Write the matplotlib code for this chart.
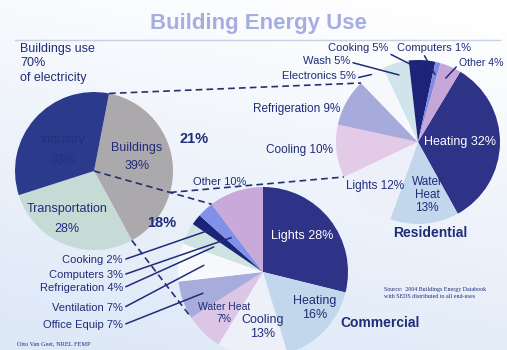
import matplotlib
matplotlib.use('Agg')
import matplotlib.pyplot as plt
import numpy as np

plt.rcParams['font.family'] = ['Liberation Sans', 'DejaVu Sans']

NAVY = '#1f2c78'
DASH = '#26306e'

# electricity use by sector (%)
sector_names = ['Buildings', 'Transportation', 'Industry']
sector_values = [39, 28, 33]
sector_colors = ['#aca9ad', '#c6dad6', '#2c3a8c']
buildings_split = [21, 18]  # residential, commercial

# residential end uses (%)
res_names = ['Heating', 'Water Heat', 'Lights', 'Cooling', 'Refrigeration',
             'Electronics', 'Wash', 'Cooking', 'Computers', 'Other']
res_values = [32, 13, 12, 10, 9, 5, 5, 5, 1, 4]
res_colors = ['#2e3388', '#c3d7ec', '#eef0f9', '#e3cbe8', '#a6abdc',
              '#f7f8fd', '#d0e4ec', '#1b2477', '#7f8ae6', '#c6a6d6']

# commercial end uses (%)
com_names = ['Lights', 'Heating', 'Cooling', 'Water Heat', 'Office Equip',
             'Ventilation', 'Refrigeration', 'Cooking', 'Computers', 'Other']
com_values = [28, 16, 13, 7, 7, 7, 4, 2, 3, 10]
com_colors = ['#2e3388', '#c3d7ec', '#eef0f9', '#dcc6e6', '#a8acdc',
              '#f8f9fd', '#cfe3e3', '#1b2477', '#8390e8', '#c9a9d9']

MAIN_C, MAIN_R, MAIN_START = (94, 179), 79, 79
RES_C, RES_R, RES_START = (418, 208), 82, 59
COM_C, COM_R, COM_START = (263, 78), 85, 90


def edge_angle(start, values, k):
    # angle (deg) of the boundary after the first k wedges of a clockwise pie
    return start - 360.0 * sum(values[:k]) / sum(values)


def mid_angle(start, values, k):
    return 0.5 * (edge_angle(start, values, k) + edge_angle(start, values, k + 1))


def polar(center, r, ang):
    a = np.radians(ang)
    return center[0] + r * np.cos(a), center[1] + r * np.sin(a)


fig = plt.figure(figsize=(5.07, 3.5), dpi=100)

# soft blue background
bg = fig.add_axes([0, 0, 1, 1], zorder=0)
yy, xx = np.mgrid[0:1:200j, 0:1:300j]
t = np.clip(0.85 * yy + 0.25 * (1 - xx) - 0.05, 0, 1)
top = np.array([1.0, 1.0, 1.0])
bottom = np.array([0.87, 0.91, 0.97])
img = top[None, None, :] * (1 - t[..., None]) + bottom[None, None, :] * t[..., None]
bg.imshow(img, aspect='auto', extent=(0, 1, 0, 1), origin='upper')
bg.axis('off')

ax = fig.add_axes([0, 0, 1, 1], zorder=1)
ax.patch.set_alpha(0)

wp = dict(linewidth=0)
ax.pie(sector_values, colors=sector_colors, startangle=MAIN_START,
       counterclock=False, center=MAIN_C, radius=MAIN_R, wedgeprops=wp, frame=True)
ax.pie(res_values, colors=res_colors, startangle=RES_START,
       counterclock=False, center=RES_C, radius=RES_R, wedgeprops=wp, frame=True)
ax.pie(com_values, colors=com_colors, startangle=COM_START,
       counterclock=False, center=COM_C, radius=COM_R, wedgeprops=wp, frame=True)

ax.set_xlim(0, 507)
ax.set_ylim(0, 350)
ax.set_aspect('auto')
ax.axis('off')

# title and rule
ax.text(258, 326, 'Building Energy Use', ha='center', va='center',
        fontsize=16, fontweight='bold', color='#a5aee2')
ax.plot([15, 500], [310, 310], color='#c9d0e2', lw=1)

ax.text(20, 307, 'Buildings use\n70%\nof electricity', ha='left', va='top',
        fontsize=9, color=NAVY, linespacing=1.25)

# connector lines between the sector pie and the end-use pies
dash = dict(color=DASH, lw=1.2, linestyle=(0, (4, 2.5)), zorder=3)
p_top = polar(MAIN_C, MAIN_R, MAIN_START)
p_res_a = polar(RES_C, RES_R, edge_angle(RES_START, res_values, 5))
ax.plot([p_top[0], p_res_a[0]], [p_top[1], p_res_a[1]], **dash)

p_com_a = polar(COM_C, COM_R, edge_angle(COM_START, com_values, 9))
ax.plot([MAIN_C[0], p_com_a[0]], [MAIN_C[1], p_com_a[1]], **dash)
d = np.array(p_com_a) - np.array(MAIN_C)
p_split = np.array(MAIN_C) + MAIN_R * d / np.hypot(*d)
p_res_b = polar(RES_C, RES_R, edge_angle(RES_START, res_values, 3))
ax.plot([p_split[0], p_res_b[0]], [p_split[1], p_res_b[1]], **dash)

p_low = polar(MAIN_C, MAIN_R, edge_angle(MAIN_START, sector_values, 1))
p_com_b = polar(COM_C, COM_R, edge_angle(COM_START, com_values, 4))
ax.plot([p_low[0], p_com_b[0]], [p_low[1], p_com_b[1]], **dash)

# sector pie labels
ax.text(137, 193, f'{sector_names[0]}\n{sector_values[0]}%', ha='center',
        va='center', fontsize=9, color=NAVY, linespacing=1.6)
ax.text(67, 131, f'{sector_names[1]}\n{sector_values[1]}%', ha='center',
        va='center', fontsize=9, color=NAVY, linespacing=1.85)
ax.text(63, 200, f'{sector_names[2]}\n{sector_values[2]}%', ha='center',
        va='center', fontsize=9, color='#20307e', linespacing=1.8)
ax.text(194, 211, f'{buildings_split[0]}%', ha='center', va='center',
        fontsize=10.5, fontweight='bold', color=NAVY)
ax.text(162, 127, f'{buildings_split[1]}%', ha='center', va='center',
        fontsize=10.5, fontweight='bold', color=NAVY)

# residential labels
rl = [f'{n} {v}%' for n, v in zip(res_names, res_values)]
ax.text(460, 208, rl[0], ha='center', va='center', fontsize=9, color='white')
ax.text(427, 155, f'Water\nHeat\n{res_values[1]}%', ha='center', va='center',
        fontsize=8.5, color=NAVY, linespacing=1.1)
ax.text(375, 164, rl[2], ha='center', va='center', fontsize=8.5, color=NAVY)
ax.text(300, 200, rl[3], ha='center', va='center', fontsize=8.5, color=NAVY)
ax.text(340, 241, rl[4], ha='right', va='center', fontsize=8.5, color=NAVY)

lead = dict(arrowstyle='-', color=NAVY, lw=1.1, shrinkA=0, shrinkB=0)
res_leaders = [
    # index, text xy, ha, fontsize, radius fraction, relpos
    (5, (282, 274), 'left', 8, 1.0, (0.95, 0.2)),
    (6, (303, 289), 'left', 8, 0.85, (1.0, 0.4)),
    (7, (358, 302), 'center', 8, 0.88, (0.9, 0.3)),
    (8, (434, 302), 'center', 8, 0.85, (0.35, 0.0)),
    (9, (459, 287), 'left', 7.6, 0.85, (0.0, 0.4)),
]
for k, xy, ha, fs, frac, rel in res_leaders:
    tip = polar(RES_C, RES_R * frac, mid_angle(RES_START, res_values, k))
    ax.annotate(rl[k], xy=tip, xytext=xy, ha=ha, va='center', fontsize=fs,
                color=NAVY, arrowprops=dict(lead, relpos=rel))

ax.text(430, 117, 'Residential', ha='center', va='center', fontsize=10,
        fontweight='bold', color=NAVY)

# commercial labels
cl = [f'{n} {v}%' for n, v in zip(com_names, com_values)]
ax.text(302, 114, cl[0], ha='center', va='center', fontsize=9, color='white')
ax.text(315, 42, f'{com_names[1]}\n{com_values[1]}%', ha='center', va='center',
        fontsize=9, color=NAVY, linespacing=1.15)
ax.text(263, 23, f'{com_names[2]}\n{com_values[2]}%', ha='center', va='center',
        fontsize=9, color=NAVY, linespacing=1.15)
ax.text(224, 37, f'{com_names[3]}\n{com_values[3]}%', ha='center', va='center',
        fontsize=7.5, color=NAVY, linespacing=1.2)
ax.text(220, 168, cl[9], ha='center', va='center', fontsize=8, color=NAVY)

com_leaders = [
    (7, (123, 90), 0.8),
    (8, (123, 75), 0.55),
    (6, (123, 62), 0.65),
    (5, (123, 42), 0.7),
    (4, (123, 25), 0.75),
]
for k, xy, frac in com_leaders:
    tip = polar(COM_C, COM_R * frac, mid_angle(COM_START, com_values, k))
    ax.annotate(cl[k], xy=tip, xytext=xy, ha='right', va='center', fontsize=8,
                color=NAVY, arrowprops=dict(lead, relpos=(1.0, 0.5)))

ax.text(380, 27, 'Commercial', ha='center', va='center', fontsize=10,
        fontweight='bold', color=NAVY)

# credits
ax.text(384, 57, 'Source:  2004 Buildings Energy Databook\nwith SEDS distributed to all end-uses',
        ha='left', va='center', fontsize=4.3, family='Liberation Serif',
        color=NAVY, linespacing=1.3)
ax.text(17, 6, 'Otto Van Geet, NREL FEMP', ha='left', va='center',
        fontsize=4.5, family='Liberation Serif', color=NAVY)

fig.savefig('out.png', dpi=100)
